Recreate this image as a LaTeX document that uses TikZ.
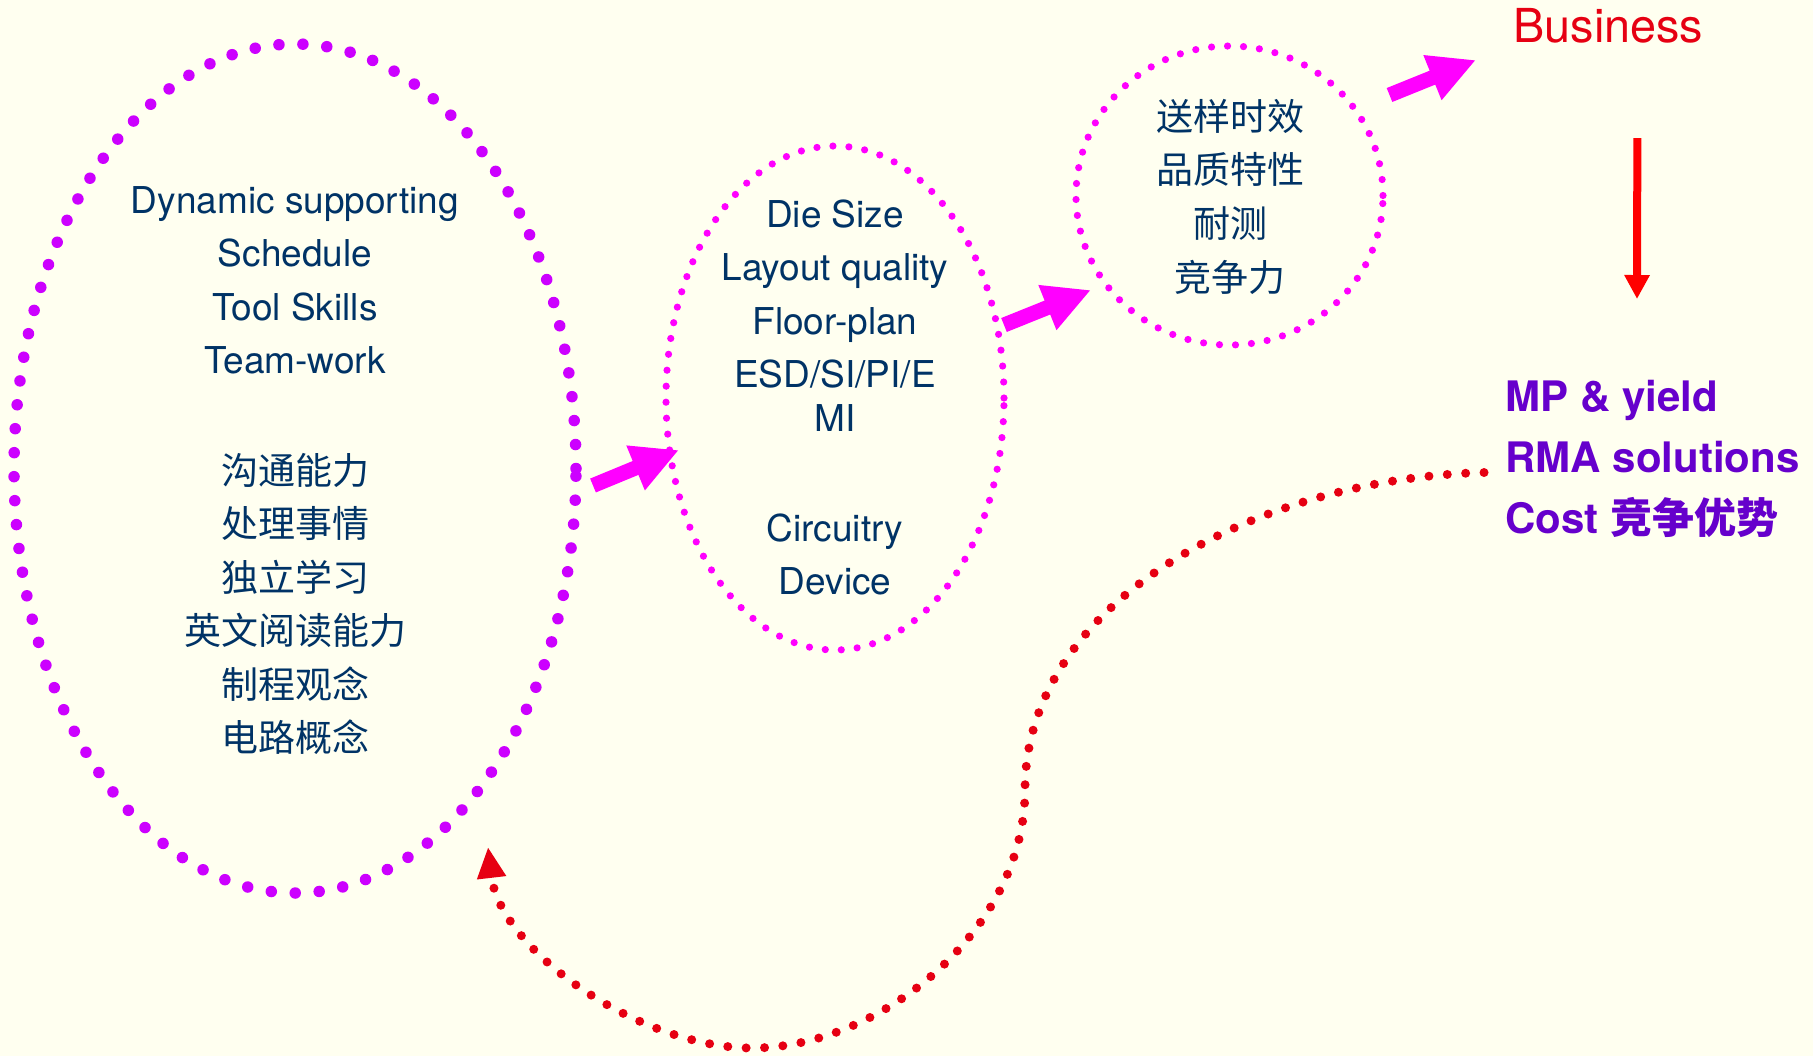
\documentclass[tikz,border=0pt]{standalone}
\usepackage{fontspec}
\setmainfont{TeX Gyre Heros}
\newfontfamily\cjk{Noto Sans CJK SC}
\usetikzlibrary{arrows.meta,shapes.geometric,calc}

\definecolor{cream}{HTML}{FFFFF0}
\definecolor{textnavy}{HTML}{003366}
\definecolor{ringviolet}{HTML}{CC00FF}
\definecolor{ringpink}{HTML}{FF00FF}
\definecolor{loopred}{HTML}{E60012}
\definecolor{downred}{HTML}{FF0000}
\definecolor{goalpurple}{HTML}{6600CC}

\tikzset{
  ring/.style={ellipse, inner sep=0pt, outer sep=0pt, line cap=round},
  bigdots/.style={ring, draw=ringviolet, line width=5.75pt, dash pattern=on 0pt off 12pt},
  smalldots/.style={ring, draw=ringpink, line width=3.6pt, dash pattern=on 0pt off 8pt},
  words/.style={anchor=base, inner sep=0pt, text=textnavy, font=\fontsize{18.5}{22}\selectfont},
  cjkwords/.style={words, font=\cjk\fontsize{18.5}{22}\selectfont},
  goal/.style={anchor=base west, inner sep=0pt, text=goalpurple, font=\fontsize{21}{25}\selectfont\bfseries},
  fatarrow/.style={draw=ringpink, line width=7.5pt, -{Triangle[length=23.5pt,width=22.5pt]}}
}

\begin{document}
\begin{tikzpicture}[x=0.5pt,y=-0.5pt]

%draw background
\fill[cream] (0,0) rectangle (1813,1056);
\useasboundingbox (0,0) rectangle (1813,1056);

%draw dotted rings
\node[bigdots, minimum width=281pt, minimum height=424.5pt] (skills) at (295,468.5) {};
\node[smalldots, minimum width=169pt, minimum height=252pt] (design) at (835,398) {};
\node[smalldots, minimum width=153.5pt, minimum height=149.5pt] (quality) at (1229.5,195.5) {};

%label skill ring
\foreach \entry [count=\i from 0] in {Dynamic supporting,Schedule,Tool Skills,Team-work}
	\node[words] (skill\i) at (295,{213+53.5*\i}) {\entry};
\foreach \entry [count=\i from 0] in {沟通能力,处理事情,独立学习,英文阅读能力,制程观念,电路概念}
	\node[cjkwords] (ability\i) at (295,{484+53.5*\i}) {\entry};

%label design ring
\foreach \entry/\y [count=\i from 0] in {Die Size/227,Layout quality/280.5,Floor-plan/334,{ESD/SI/PI/E}/387.5,MI/431.5,Circuitry/541,Device/594.5}
	\node[words] (factor\i) at (835,\y) {\entry};

%label quality ring
\foreach \entry [count=\i from 0] in {送样时效,品质特性,耐测,竞争力}
	\node[cjkwords] (merit\i) at (1230,{130+53.7*\i}) {\entry};

%label business and goals
\node[anchor=base west, inner sep=0pt, text=loopred, font=\fontsize{23.4}{28}\selectfont] (business) at (1513,42) {Business};
\node[goal] (goal0) at (1505,411) {MP \& yield};
\node[goal] (goal1) at (1505,472) {RMA solutions};
\node[goal] (goal2) at (1505,533) {Cost {\cjk 竞争优势}};

%draw fat arrows
\draw[fatarrow] ($(skills.east)+(17,17)$) -- ($(design.west)+(13,52)$);
\draw[fatarrow] ($(design.east)+(0,-73)$) -- ($(quality.west)+(15,94.5)$);
\draw[fatarrow] ($(quality.east)+(6.5,-100.5)$) -- ($(business.base west)+(-37,18)$);

%draw red arrow down
\draw[draw=downred, line width=4pt, -{Triangle[length=12pt,width=12pt]}] ($(business.base)+(29,96)$) -- ($(goal0.base west)+(132,-112)$);

%draw loop back
\draw[draw=loopred, line width=4.5pt, line cap=round, dash pattern=on 0pt off 9.2pt, shorten <=10.5pt, -{Triangle[length=15.5pt,width=13.6pt]}]
	(goal1.base west) .. controls (1260,478) and (1025,600) .. (1025,790)
	.. controls (1025,930) and (880,1048) .. (752,1048)
	.. controls (640,1048) and (500,950) .. ($(skills.south east)+(-5.7,78.3)$);

\end{tikzpicture}
\end{document}
